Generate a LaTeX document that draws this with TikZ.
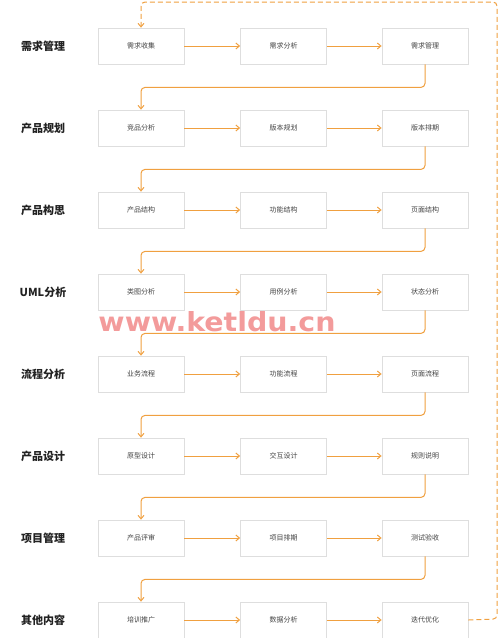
\documentclass[tikz,border=0pt]{standalone}
\usepackage{fontspec}
\usepackage{graphicx}
\setmainfont{Noto Sans CJK SC}
\newfontfamily\wmfont{DejaVu Sans}
\usetikzlibrary{arrows.meta}
\definecolor{arr}{HTML}{F0A040}
\definecolor{bx}{HTML}{DEDEDE}
\definecolor{txt}{HTML}{444444}
\definecolor{lbl}{HTML}{222222}
\definecolor{wm}{HTML}{F07A7A}
\tikzset{
  stepbox/.style={draw=bx, line width=0.8pt, minimum width=86pt, minimum height=36pt, inner sep=0pt, font=\fontsize{7}{8}\selectfont, text=txt},
  rowlabel/.style={font=\fontsize{11}{12}\selectfont\bfseries, text=lbl},
  flow/.style={draw=arr, line width=1pt, -{Straight Barb[length=3.5pt,width=6pt]}},
  turn/.style={flow, rounded corners=4pt},
  loopback/.style={turn, dashed, dash pattern=on 5pt off 3pt},
}
\begin{document}
\begin{tikzpicture}[x=1pt,y=-1pt]
\useasboundingbox (0,0) rectangle (499,638);
\fill[white] (0,0) rectangle (499,638);
\foreach \i/\lab/\a/\b/\c in {1/需求管理/需求收集/需求分析/需求管理,2/产品规划/竞品分析/版本规划/版本排期,3/产品构思/产品结构/功能结构/页面结构,4/UML分析/类图分析/用例分析/状态分析,5/流程分析/业务流程/功能流程/页面流程,6/产品设计/原型设计/交互设计/规则说明,7/项目管理/产品评审/项目排期/测试验收,8/其他内容/培训推广/数据分析/迭代优化}{
  \pgfmathsetmacro{\yy}{46+82*(\i-1)}
  \node[rowlabel] (l\i) at (43,\yy) {\lab};
  \node[stepbox] (a\i) at (141,\yy) {\a};
  \node[stepbox] (b\i) at (283.5,\yy) {\b};
  \node[stepbox] (c\i) at (425,\yy) {\c};
  \draw[flow] (a\i) -- (b\i);
  \draw[flow] (b\i) -- (c\i);
}
\foreach \i [evaluate=\i as \j using int(\i+1)] in {1,...,7}{
  \draw[turn] (c\i.south) -- ++(0,23) -| (a\j.north);
}
\coordinate (loopr) at (497,619);
\coordinate (loopt) at (497,2);
\draw[loopback] (c8.east) -- (loopr) -- (loopt) -| (a1.north);
\node[text=wm, opacity=0.75, inner sep=0pt, font=\wmfont\bfseries] (wmk) at (217,322) {\resizebox{237pt}{20pt}{www.ketldu.cn}};
\end{tikzpicture}
\end{document}
